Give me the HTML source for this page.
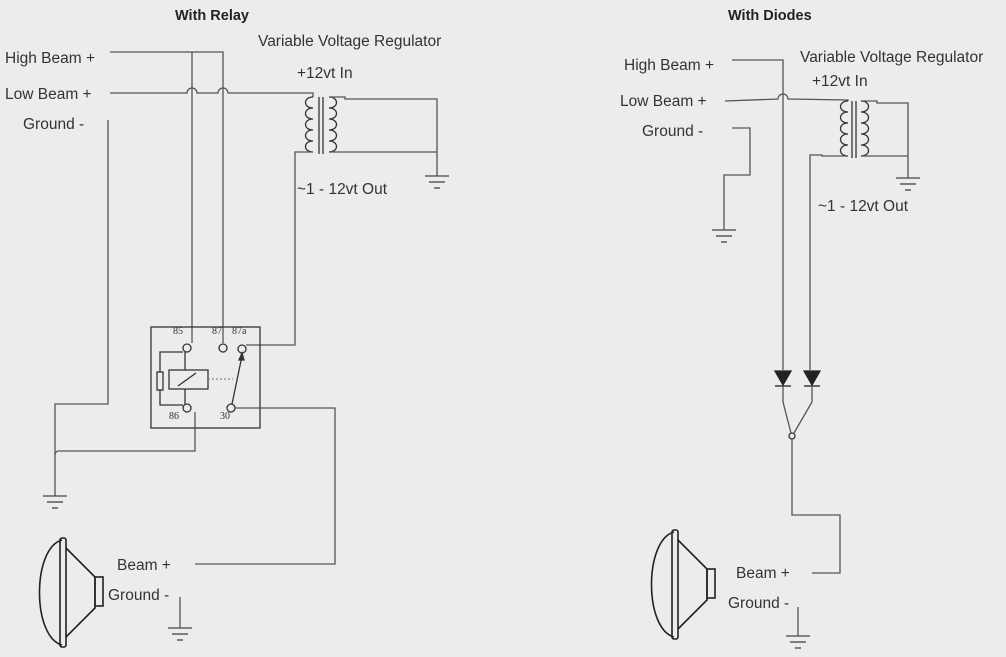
<!DOCTYPE html><html><head><style>body{margin:0;background:#ececec}svg{display:block}text{font-family:"Liberation Sans",sans-serif;font-size:15.5px;fill:#333}.b{font-weight:bold;font-size:14.5px;fill:#222}.s{font-family:"Liberation Serif",serif;font-size:10px}</style></head><body>
<svg width="1006" height="657" viewBox="0 0 1006 657" fill="none" stroke="#555" stroke-width="1.3">
<defs>
<g id="gnd" stroke="#444"><line x1="-12" y1="0" x2="12" y2="0"/><line x1="-8" y1="6" x2="8" y2="6"/><line x1="-3" y1="12" x2="3" y2="12"/></g>
<g id="coil" stroke="#333"><path d="M0,0 c-10,0 -10,11 0,11 c-10,0 -10,11 0,11 c-10,0 -10,11 0,11 c-10,0 -10,11 0,11 c-10,0 -10,11 0,11"/></g>
<g id="lamp" stroke="#222" stroke-width="1.6"><path d="M22,0 C-8,8 -8,97 22,105"/><rect x="20" y="-2" width="6" height="109" rx="2"/><path d="M26,8 L55,37 L55,68 L26,97"/><rect x="55" y="37" width="8" height="29"/></g>
</defs>
<text x="175" y="20" class="b" stroke="none">With Relay</text>
<text x="728" y="20" class="b" stroke="none">With Diodes</text>
<g stroke="none">
<text x="5" y="63">High Beam +</text><text x="5" y="99">Low Beam +</text><text x="23" y="129">Ground -</text>
<text x="258" y="46">Variable Voltage Regulator</text><text x="297" y="78">+12vt In</text><text x="297" y="194">~1 - 12vt Out</text>
<text x="117" y="570">Beam +</text><text x="108" y="600">Ground -</text>
<text x="624" y="70">High Beam +</text><text x="620" y="106">Low Beam +</text><text x="642" y="136">Ground -</text>
<text x="800" y="62">Variable Voltage Regulator</text><text x="812" y="86">+12vt In</text><text x="818" y="211">~1 - 12vt Out</text>
<text x="736" y="578">Beam +</text><text x="728" y="608">Ground -</text>
<text x="173" y="334" class="s">85</text><text x="212" y="334" class="s">87</text><text x="232" y="334" class="s">87a</text><text x="169" y="419" class="s">86</text><text x="220" y="419" class="s">30</text>
</g>
<!-- left -->
<path d="M110,52 H223 V343 M192,52 V343"/>
<path d="M110,93 H187 a5,5 0 0 1 10,0 H218 a5,5 0 0 1 10,0 H313 V97"/>
<use href="#coil" transform="translate(313,97)"/>
<line x1="319" y1="97" x2="319" y2="154" stroke="#333"/><line x1="323" y1="97" x2="323" y2="154" stroke="#333"/>
<use href="#coil" transform="translate(329,97) scale(-1,1)"/>
<path d="M329,97 H345 V99 H437 V176 M329,152 H437 M313,152 H295 V345 H246"/>
<use href="#gnd" transform="translate(437,176)"/>
<rect x="151" y="327" width="109" height="101" stroke="#333"/>
<g stroke="#333"><circle cx="187" cy="348" r="4"/><circle cx="223" cy="348" r="4"/><circle cx="242" cy="349" r="4"/><circle cx="187" cy="408" r="4"/><circle cx="231" cy="408" r="4"/>
<path d="M183,352 H160 V372 M160,390 V405 H183 M185,352 V370 M185,389 V404"/><rect x="157" y="372" width="6" height="18"/><rect x="169" y="370" width="39" height="19"/><line x1="178" y1="386" x2="196" y2="373"/>
<line x1="208" y1="379" x2="233" y2="379" stroke-dasharray="2,2" stroke="#888"/><line x1="232" y1="404" x2="242" y2="356"/><path d="M242,353 l-3,7 h5z" fill="#333"/></g>
<path d="M235,408 H335 V564 H195"/>
<path d="M195,412 V451 H60 a4,4 0 0 0 -5,4 M108,120 V404 H55 V496"/>
<use href="#gnd" transform="translate(55,496)"/>
<use href="#lamp" transform="translate(40,540)"/>
<path d="M180,597 V628"/><use href="#gnd" transform="translate(180,628)"/>
<!-- right -->
<path d="M732,60 H783 V370 M725,101 L778,99 a5,5 0 0 1 10,0 L848,100 V101"/>
<use href="#coil" transform="translate(848,101)"/>
<line x1="852" y1="101" x2="852" y2="158" stroke="#333"/><line x1="856" y1="101" x2="856" y2="158" stroke="#333"/>
<use href="#coil" transform="translate(861,101) scale(-1,1)"/>
<path d="M861,101 H877 V103 H908 V178 M861,156 H908 M848,156 H822 V155 H810 V370"/>
<use href="#gnd" transform="translate(908,178)"/>
<path d="M732,128 H750 V175 H724 V230"/><use href="#gnd" transform="translate(724,230)"/>
<g stroke="#222" fill="#222"><path d="M775,371 H791 L783,385Z M804,371 H820 L812,385Z"/><line x1="775" y1="386" x2="791" y2="386"/><line x1="804" y1="386" x2="820" y2="386"/></g>
<path d="M783,386 V402 L791,433 M812,386 V402 L794,433"/><circle cx="792" cy="436" r="3" stroke="#333"/>
<path d="M792,439 V515 H840 V573 H812"/>
<use href="#lamp" transform="translate(652,532)"/>
<path d="M798,607 V636"/><use href="#gnd" transform="translate(798,636)"/>
</svg></body></html>
